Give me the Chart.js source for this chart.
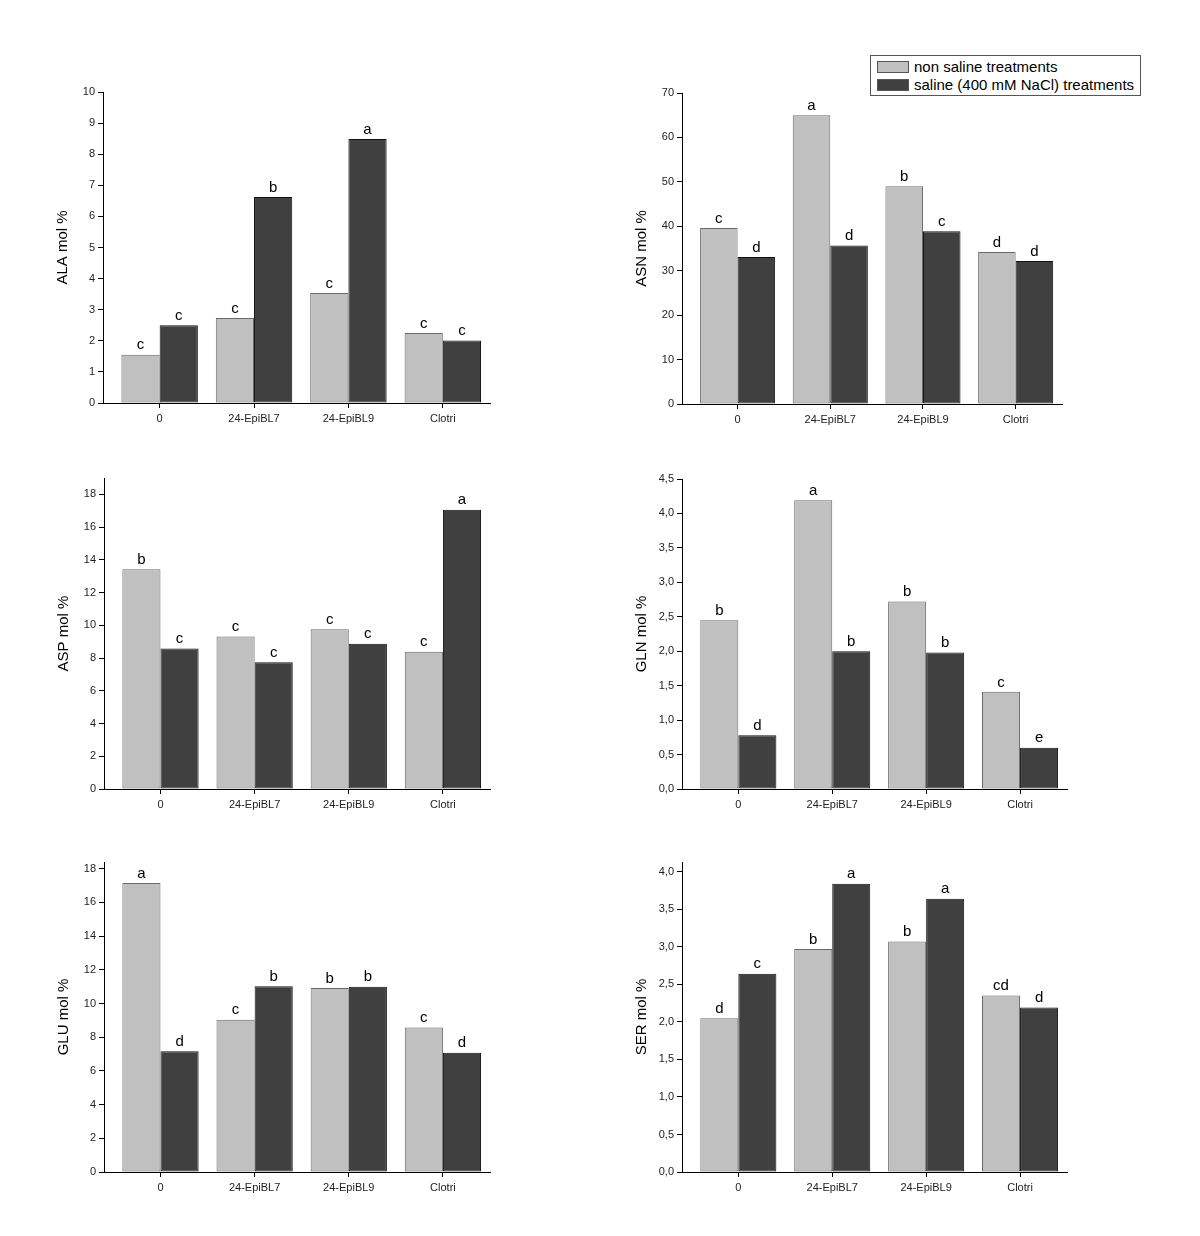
<!DOCTYPE html>
<html>
<head>
<meta charset="utf-8">
<script src="https://cdn.jsdelivr.net/npm/chart.js@4.4.1/dist/chart.umd.min.js"></script>
<style>
  body { margin: 0; background: #fff; width: 1200px; height: 1236px; position: relative; overflow: hidden; font-family: 'Liberation Sans', Arial, sans-serif; }
  canvas { position: absolute; }
  #legend { position: absolute; left: 870px; top: 55px; width: 269px; height: 39px; border: 1px solid #555; background: #fff; }
  .row { position: absolute; left: 6px; height: 18px; font-size: 15px; line-height: 18px; color: #000; white-space: nowrap; }
  .row span.sw { display: inline-block; width: 30px; height: 10px; border: 1px solid #555; vertical-align: -1px; margin-right: 5px; }
</style>
</head>
<body>
<div id="legend"></div>
<script>
const categories = ['0', '24-EpiBL7', '24-EpiBL9', 'Clotri']
const seriesNames = ['non saline treatments', 'saline (400 mM NaCl) treatments']

const alaNon = [1.55, 2.73, 3.54, 2.25]
const alaSal = [2.50, 6.62, 8.49, 2.01]
const alaLetNon = ['c', 'c', 'c', 'c']
const alaLetSal = ['c', 'b', 'a', 'c']
const alaTicks = [0, 1, 2, 3, 4, 5, 6, 7, 8, 9, 10]

const asnNon = [39.6, 65.0, 49.0, 34.2]
const asnSal = [33.1, 35.7, 38.9, 32.2]
const asnLetNon = ['c', 'a', 'b', 'd']
const asnLetSal = ['d', 'd', 'c', 'd']
const asnTicks = [0, 10, 20, 30, 40, 50, 60, 70]

const aspNon = [13.42, 9.31, 9.76, 8.38]
const aspSal = [8.58, 7.75, 8.87, 17.06]
const aspLetNon = ['b', 'c', 'c', 'c']
const aspLetSal = ['c', 'c', 'c', 'a']
const aspTicks = [0, 2, 4, 6, 8, 10, 12, 14, 16, 18]

const glnNon = [2.45, 4.19, 2.72, 1.41]
const glnSal = [0.78, 2.00, 1.98, 0.60]
const glnLetNon = ['b', 'a', 'b', 'c']
const glnLetSal = ['d', 'b', 'b', 'e']
const glnTicks = [0, 0.5, 1, 1.5, 2, 2.5, 3, 3.5, 4, 4.5]

const gluNon = [17.15, 9.04, 10.92, 8.58]
const gluSal = [7.16, 11.02, 11.0, 7.08]
const gluLetNon = ['a', 'c', 'b', 'c']
const gluLetSal = ['d', 'b', 'b', 'd']
const gluTicks = [0, 2, 4, 6, 8, 10, 12, 14, 16, 18]

const serNon = [2.05, 2.97, 3.07, 2.35]
const serSal = [2.64, 3.84, 3.64, 2.19]
const serLetNon = ['d', 'b', 'b', 'cd']
const serLetSal = ['c', 'a', 'a', 'd']
const serTicks = [0, 0.5, 1, 1.5, 2, 2.5, 3, 3.5, 4]

const lightColor = '#c0c0c0'
const darkColor = '#404040'
const FONT = "'Liberation Sans', Arial, sans-serif"
const AXIS_W = 55
const XAXIS_H = 30
const PAD_T = 15
const PAD_R = 6

const intFmt = v => String(v)
const commaFmt = v => v.toFixed(1).replace('.', ',')

const panels = [
    {title: 'ALA mol %', non: alaNon, sal: alaSal, letNon: alaLetNon, letSal: alaLetSal, ticks: alaTicks, max: 10, fmt: intFmt,
     left: 103, right: 490, top: 92, bottom: 403},
    {title: 'ASN mol %', non: asnNon, sal: asnSal, letNon: asnLetNon, letSal: asnLetSal, ticks: asnTicks, max: 70, fmt: intFmt,
     left: 682, right: 1062, top: 93, bottom: 404},
    {title: 'ASP mol %', non: aspNon, sal: aspSal, letNon: aspLetNon, letSal: aspLetSal, ticks: aspTicks, max: 19, fmt: intFmt,
     left: 104, right: 490, top: 478, bottom: 789},
    {title: 'GLN mol %', non: glnNon, sal: glnSal, letNon: glnLetNon, letSal: glnLetSal, ticks: glnTicks, max: 4.5, fmt: commaFmt,
     left: 682, right: 1067, top: 479, bottom: 789},
    {title: 'GLU mol %', non: gluNon, sal: gluSal, letNon: gluLetNon, letSal: gluLetSal, ticks: gluTicks, max: 18.4, fmt: intFmt,
     left: 104, right: 490, top: 862, bottom: 1172},
    {title: 'SER mol %', non: serNon, sal: serSal, letNon: serLetNon, letSal: serLetSal, ticks: serTicks, max: 4.13, fmt: commaFmt,
     left: 682, right: 1067, top: 862, bottom: 1172}
]

const letterPlugin = {
    id: 'letters',
    afterDatasetsDraw(chart) {
        const ctx = chart.ctx
        ctx.save()
        ctx.fillStyle = '#000'
        ctx.font = '15px ' + FONT
        ctx.textAlign = 'center'
        ctx.textBaseline = 'bottom'
        chart.data.datasets.forEach((ds, di) => {
            chart.getDatasetMeta(di).data.forEach((bar, i) => {
                ctx.fillText(ds.letters[i], bar.x, bar.y - 2)
            })
        })
        ctx.restore()
    }
}

function makeChart(p) {
    const canvas = document.createElement('canvas')
    canvas.width = p.right - p.left + AXIS_W + PAD_R
    canvas.height = p.bottom - p.top + PAD_T + XAXIS_H
    canvas.style.left = (p.left - AXIS_W) + 'px'
    canvas.style.top = (p.top - PAD_T) + 'px'
    document.body.appendChild(canvas)

    const toPoints = arr => arr.map((v, i) => ({x: i, y: v}))
    new Chart(canvas.getContext('2d'), {
        type: 'bar',
        data: {
            datasets: [{
                label: seriesNames[0],
                data: toPoints(p.non),
                letters: p.letNon,
                backgroundColor: lightColor,
                borderColor: '#6a6a6a',
                borderWidth: 1,
                borderSkipped: false
            }, {
                label: seriesNames[1],
                data: toPoints(p.sal),
                letters: p.letSal,
                backgroundColor: darkColor,
                borderColor: '#111',
                borderWidth: 1,
                borderSkipped: false
            }]
        },
        options: {
            responsive: false,
            animation: false,
            devicePixelRatio: 1,
            categoryPercentage: 0.81,
            barPercentage: 1,
            layout: {padding: {top: PAD_T, right: PAD_R, left: 0, bottom: 0}},
            plugins: {legend: {display: false}, tooltip: {enabled: false}},
            scales: {
                x: {
                    type: 'linear',
                    min: -0.6,
                    max: 3.5,
                    offset: false,
                    afterBuildTicks: s => { s.ticks = categories.map((c, i) => ({value: i})) },
                    afterFit: s => { s.height = XAXIS_H },
                    grid: {offset: false, drawOnChartArea: false, drawTicks: true, tickLength: 5, color: '#000'},
                    border: {display: true, color: '#000', width: 1},
                    ticks: {
                        callback: v => categories[v],
                        color: '#222',
                        font: {size: 11, family: FONT},
                        padding: 4,
                        maxRotation: 0,
                        autoSkip: false
                    }
                },
                y: {
                    type: 'linear',
                    min: 0,
                    max: p.max,
                    afterBuildTicks: s => { s.ticks = p.ticks.map(v => ({value: v})) },
                    afterFit: s => { s.width = AXIS_W },
                    grid: {drawOnChartArea: false, drawTicks: true, tickLength: 5, color: '#000'},
                    border: {display: true, color: '#000', width: 1},
                    ticks: {
                        callback: v => p.fmt(v),
                        color: '#222',
                        font: {size: 11, family: FONT},
                        padding: 3
                    },
                    title: {
                        display: true,
                        text: p.title,
                        color: '#000',
                        font: {size: 15, family: FONT},
                        padding: {top: 6, bottom: 0}
                    }
                }
            }
        },
        plugins: [letterPlugin]
    })
}

panels.forEach(makeChart)

// legend
const legend = document.getElementById('legend')
legend.innerHTML = seriesNames.map((name, i) =>
    `<div class="row" style="top:${i === 0 ? 2 : 20}px"><span class="sw" style="background:${i === 0 ? lightColor : darkColor}"></span>${name}</div>`
).join('')
</script>
</body>
</html>
